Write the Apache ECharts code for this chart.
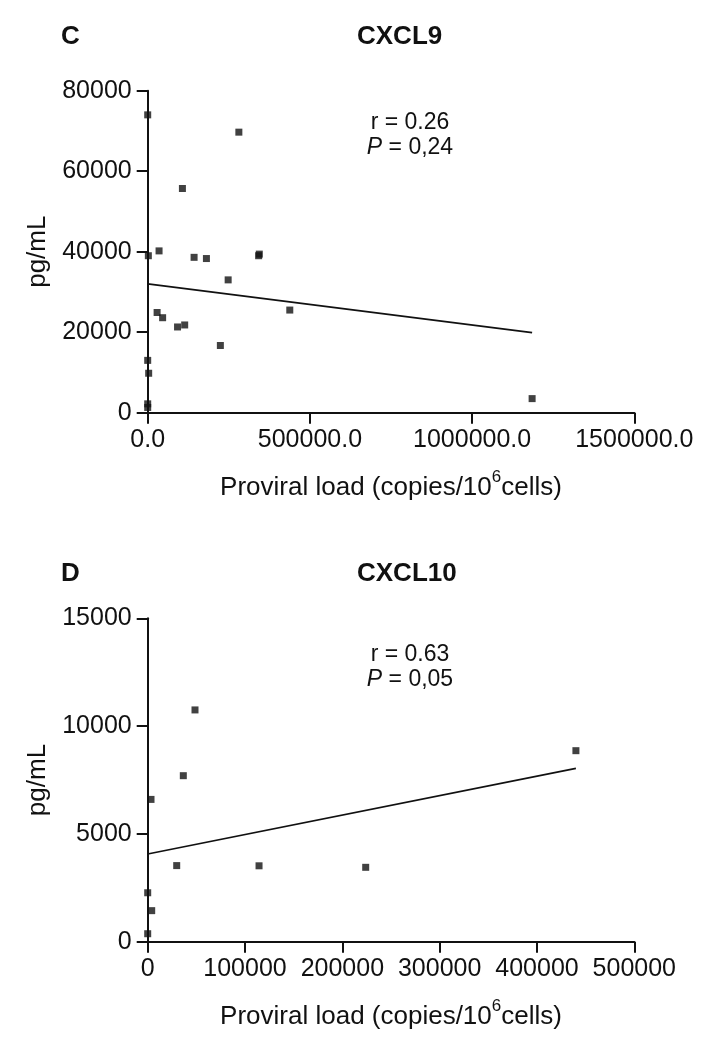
<!DOCTYPE html>
<html>
<head>
<meta charset="utf-8">
<script src="https://cdn.jsdelivr.net/npm/echarts@6/dist/echarts.min.js"></script>
<style>
  html, body { margin: 0; padding: 0; background: #ffffff; }
  #chart { width: 716px; height: 1046px; }
</style>
</head>
<body>
<div id="chart"></div>
<script>
// Panel C: CXCL9 vs proviral load
const cxcl9Load = [0, 281000, 107000, 2000, 35000, 143000, 181000, 342000, 344000, 248000,
                   29000, 46000, 92000, 114000, 224000, 438000, 0, 3000, 0, 0, 1185000];
const cxcl9Conc = [74000, 69700, 55700, 39000, 40200, 38600, 38300, 39000, 39400, 33000,
                   24900, 23600, 21300, 21800, 16700, 25500, 13000, 9800, 2200, 1300, 3500];
const cxcl9Fit = [[0, 32000], [1185000, 19900]];
const cxcl9Stats = { r: '0.26', p: '0,24' };

// Panel D: CXCL10 vs proviral load
const cxcl10Load = [48600, 36600, 3400, 29800, 114400, 224000, 0, 4100, 0, 440000];
const cxcl10Conc = [10750, 7700, 6600, 3530, 3520, 3450, 2270, 1440, 370, 8860];
const cxcl10Fit = [[0, 4070], [440000, 8040]];
const cxcl10Stats = { r: '0.63', p: '0,05' };

// Axis ranges
const cxcl9XAxis = { min: 0, max: 1500000, interval: 500000 };
const cxcl9YAxis = { min: 0, max: 80000, interval: 20000 };
const cxcl10XAxis = { min: 0, max: 500000, interval: 100000 };
const cxcl10YAxis = { min: 0, max: 15000, interval: 5000 };

const FONT = "'Liberation Sans', Arial, Helvetica, sans-serif";
const INK = '#111111';

function pairs(xs, ys) { return xs.map((x, i) => [x, ys[i]]); }

const axisLine = { show: true, lineStyle: { color: INK, width: 2 } };
const axisTick = { show: true, length: 11, lineStyle: { color: INK, width: 2 } };
const loadName = '{a|Proviral load (copies/10}{s|6}{a|cells)}';
const loadNameStyle = {
  color: INK,
  rich: {
    a: { fontFamily: FONT, fontSize: 26, color: INK, lineHeight: 32, verticalAlign: 'bottom' },
    s: { fontFamily: FONT, fontSize: 17, color: INK, lineHeight: 18, verticalAlign: 'top' }
  }
};

function xAxisFor(gridIndex, range, fmt) {
  return {
    type: 'value', gridIndex, ...range,
    axisLine, axisTick, splitLine: { show: false },
    axisLabel: { color: INK, fontFamily: FONT, fontSize: 25, margin: 15, formatter: fmt },
    name: loadName, nameLocation: 'middle', nameGap: 56, nameTextStyle: loadNameStyle
  };
}
function yAxisFor(gridIndex, range) {
  return {
    type: 'value', gridIndex, ...range,
    axisLine, axisTick, splitLine: { show: false },
    axisLabel: { color: INK, fontFamily: FONT, fontSize: 25, margin: 16, formatter: v => String(v) },
    name: 'pg/mL', nameLocation: 'middle', nameGap: 96,
    nameTextStyle: { color: INK, fontFamily: FONT, fontSize: 26 }
  };
}

function scatter(idx, xs, ys) {
  return {
    type: 'scatter', xAxisIndex: idx, yAxisIndex: idx,
    data: pairs(xs, ys), symbol: 'rect', symbolSize: 7,
    itemStyle: { color: INK }, z: 3
  };
}
function fitLine(idx, pts) {
  return {
    type: 'line', xAxisIndex: idx, yAxisIndex: idx, data: pts,
    showSymbol: false, symbol: 'none', lineStyle: { color: INK, width: 1.6 }, z: 2
  };
}

function heading(left, top, text) {
  return { type: 'text', left, top, style: { text, fontFamily: FONT, fontSize: 26, fontWeight: 'bold', fill: INK } };
}
function stats(cx, y, s) {
  return [
    { type: 'text', x: cx, y, style: { text: 'r = ' + s.r, fontFamily: FONT, fontSize: 23, fill: INK, align: 'center', verticalAlign: 'middle' } },
    { type: 'text', x: cx, y: y + 25, style: {
        text: '{i|P} = ' + s.p, fontFamily: FONT, fontSize: 23, fill: INK, align: 'center', verticalAlign: 'middle',
        rich: { i: { fontFamily: FONT, fontSize: 23, fontStyle: 'italic', fill: INK } } } }
  ];
}

const chart = echarts.init(document.getElementById('chart'), null, { renderer: 'canvas' });
chart.setOption({
  backgroundColor: '#ffffff',
  animation: false,
  grid: [
    { left: 147.7, top: 90.7, width: 486.6, height: 322 },
    { left: 147.7, top: 618.3, width: 486.6, height: 323.4 }
  ],
  xAxis: [
    xAxisFor(0, cxcl9XAxis, v => v.toFixed(1)),
    xAxisFor(1, cxcl10XAxis, v => String(v))
  ],
  yAxis: [
    yAxisFor(0, cxcl9YAxis),
    yAxisFor(1, cxcl10YAxis)
  ],
  series: [
    fitLine(0, cxcl9Fit), scatter(0, cxcl9Load, cxcl9Conc),
    fitLine(1, cxcl10Fit), scatter(1, cxcl10Load, cxcl10Conc)
  ],
  graphic: [
    heading(61, 24, 'C'),
    heading(357, 24, 'CXCL9'),
    ...stats(410, 123, cxcl9Stats),
    heading(61, 561, 'D'),
    heading(357, 561, 'CXCL10'),
    ...stats(410, 655, cxcl10Stats)
  ]
});
</script>
</body>
</html>
